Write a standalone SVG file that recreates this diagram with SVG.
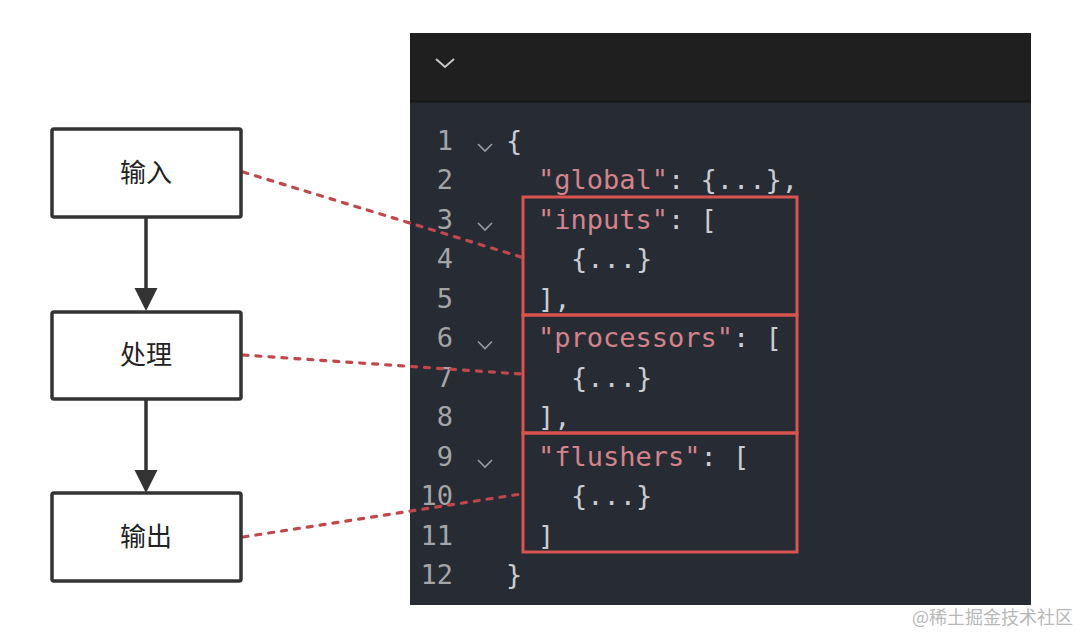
<svg xmlns="http://www.w3.org/2000/svg" width="1080" height="636" viewBox="0 0 1080 636">
<defs>
<style>
.box{fill:#fff;stroke:#333;stroke-width:3.5}
.lbl{font-family:"Noto Sans CJK SC","Noto Sans",sans-serif;font-size:26px;fill:#222;text-anchor:middle}
.flow{stroke:#333;stroke-width:3.5;fill:none}
.head{fill:#333}
.dash{stroke:#c0474c;stroke-width:3.2;fill:none;stroke-dasharray:5 8;stroke-linecap:round}
.code{font-family:"DejaVu Sans Mono",monospace;font-size:27px;fill:#c9ccd2}
.str{fill:#d3838c}
.ln{font-family:"DejaVu Sans Mono",monospace;font-size:27px;fill:#a3a5a8;text-anchor:end}
.fold{stroke:#9a9ca0;stroke-width:1.6;fill:none}
.red{fill:none;stroke:#d9534f;stroke-width:3}
</style>
</defs>
<rect x="0" y="0" width="1080" height="636" fill="#ffffff"/>

<g id="editor">
<rect x="410" y="33" width="621" height="572" fill="#272b33"/>
<rect x="410" y="33" width="621" height="68" fill="#1f1f1f"/>
<line x1="410" y1="101.5" x2="1031" y2="101.5" stroke="#171717" stroke-width="2"/>
<polyline points="436,59 445,67 454,59" fill="none" stroke="#c8c8c8" stroke-width="2"/>
<g class="ln-group">
<text class="ln" x="453" y="149.5">1</text>
<text class="ln" x="453" y="189">2</text>
<text class="ln" x="453" y="228.5">3</text>
<text class="ln" x="453" y="268">4</text>
<text class="ln" x="453" y="307.5">5</text>
<text class="ln" x="453" y="347">6</text>
<text class="ln" x="453" y="386.5">7</text>
<text class="ln" x="453" y="426">8</text>
<text class="ln" x="453" y="465.5">9</text>
<text class="ln" x="453" y="505">10</text>
<text class="ln" x="453" y="544.5">11</text>
<text class="ln" x="453" y="584">12</text>
</g>
<polyline class="fold" points="478,144 485,151 492,144"/>
<polyline class="fold" points="478,223 485,230 492,223"/>
<polyline class="fold" points="478,341.5 485,348.5 492,341.5"/>
<polyline class="fold" points="478,460 485,467 492,460"/>
<text class="code" x="506" y="149.5">{</text>
<text class="code" x="538" y="189"><tspan class="str">"global"</tspan>: {...},</text>
<text class="code" x="538" y="228.5"><tspan class="str">"inputs"</tspan>: [</text>
<text class="code" x="571" y="268">{...}</text>
<text class="code" x="538" y="307.5">],</text>
<text class="code" x="538" y="347"><tspan class="str">"processors"</tspan>: [</text>
<text class="code" x="571" y="386.5">{...}</text>
<text class="code" x="538" y="426">],</text>
<text class="code" x="538" y="465.5"><tspan class="str">"flushers"</tspan>: [</text>
<text class="code" x="571" y="505">{...}</text>
<text class="code" x="538" y="544.5">]</text>
<text class="code" x="506" y="584">}</text>
<rect class="red" x="523" y="197" width="274" height="118"/>
<rect class="red" x="523" y="315" width="274" height="118"/>
<rect class="red" x="523" y="433" width="274" height="119"/>
</g>

<g id="connectors">
<line class="flow" x1="146" y1="218" x2="146" y2="290"/>
<polygon class="head" points="134.5,288 157.5,288 146,311"/>
<line class="flow" x1="146" y1="399" x2="146" y2="472"/>
<polygon class="head" points="134.5,470 157.5,470 146,493"/>
<line class="dash" x1="243" y1="172" x2="521" y2="257"/>
<line class="dash" x1="243" y1="355" x2="521" y2="374"/>
<line class="dash" x1="243" y1="537" x2="521" y2="494"/>
</g>

<g id="node-input">
<rect class="box" x="52" y="129" width="189" height="88" rx="2"/>
<text class="lbl" x="146" y="182">输入</text>
</g>
<g id="node-process">
<rect class="box" x="52" y="312" width="189" height="87" rx="2"/>
<text class="lbl" x="146" y="364">处理</text>
</g>
<g id="node-output">
<rect class="box" x="52" y="493" width="189" height="88" rx="2"/>
<text class="lbl" x="146" y="546">输出</text>
</g>

<text x="1073" y="624" font-family="'Noto Sans CJK SC','Noto Sans',sans-serif" font-size="18" fill="#b8b8b8" text-anchor="end">@稀土掘金技术社区</text>
</svg>
